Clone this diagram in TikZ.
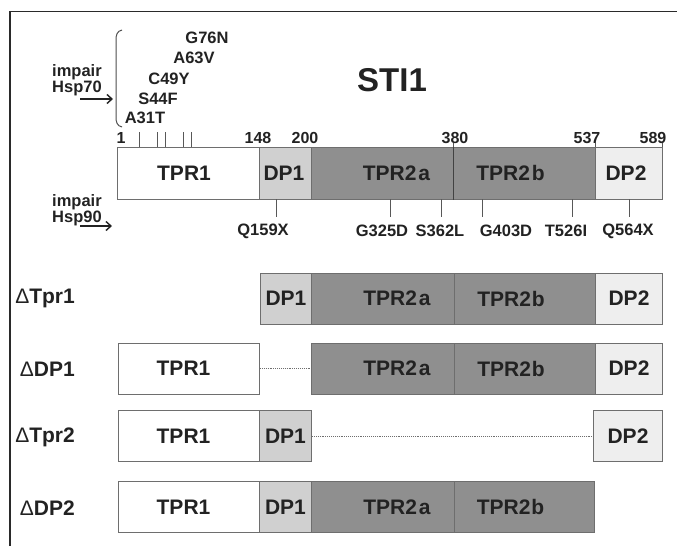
\documentclass[tikz,border=0pt]{standalone}
\usepackage{fontspec}
\setmainfont{Liberation Sans}
\usetikzlibrary{arrows.meta}
\definecolor{txt}{HTML}{222222}
\definecolor{edge}{HTML}{6E6E6E}
\definecolor{dpone}{HTML}{D0D0D0}
\definecolor{tprtwo}{HTML}{8F8F8F}
\definecolor{dptwo}{HTML}{EEEEEE}
\definecolor{framec}{HTML}{2A2A2A}
\newcommand{\dlt}{{\mdseries\char"0394}}
\tikzset{
  seg/.style={draw=edge, line width=1pt, inner sep=0pt, anchor=west, text=txt,
    font=\fontsize{21}{21}\selectfont\bfseries},
  mainseg/.style={seg, minimum height=52pt},
  rowseg/.style={seg, minimum height=51pt},
  tprone/.style={fill=white},
  dpo/.style={fill=dpone},
  tprt/.style={fill=tprtwo},
  dpt/.style={fill=dptwo},
  mut/.style={text=txt, inner sep=0pt, font=\fontsize{16.5}{16.5}\selectfont\bfseries},
  num/.style={text=txt, inner sep=0pt, font=\fontsize{16}{16}\selectfont\bfseries},
  side/.style={text=txt, inner sep=0pt, anchor=west, font=\fontsize{16.5}{16.5}\selectfont\bfseries},
  rowlab/.style={text=txt, inner sep=0pt, anchor=east, font=\fontsize{21}{21}\selectfont\bfseries},
  tick/.style={draw=edge!80!black, line width=0.9pt},
  dotline/.style={draw=edge, line width=0.9pt, densely dotted},
  hsparrow/.style={draw=txt, line width=1.4pt, -{Straight Barb[length=5pt,width=9pt,line width=1.4pt]}},
}
\begin{document}
\begin{tikzpicture}[x=1pt,y=-1pt]
\useasboundingbox (0,0) rectangle (677,546);
% frame
\draw[framec, line width=1.5pt] (10,546) -- (10,11.5) -- (677,11.5);
% title
\node[text=txt, inner sep=0pt, font=\fontsize{33}{33}\selectfont\bfseries] (title) at (392,80) {STI1};
% Hsp70 mutations
\node[mut] (g76n) at (207,38) {G76N};
\node[mut] (a63v) at (194,58) {A63V};
\node[mut] (c49y) at (169,79) {C49Y};
\node[mut] (s44f) at (158,99) {S44F};
\node[mut] (a31t) at (145,118) {A31T};
\draw[edge!70!black, line width=1pt] (122,30) .. controls (117,31) and (116,35) .. (116,40) -- (116,117) .. controls (116,122) and (117,126) .. (122,127);
\node[side] (imp70) at (52,72) {impair};
\node[side] (hsp70) at (52,88) {Hsp70};
\coordinate (a70s) at (80,99);
\coordinate (a70e) at (113,99);
\draw[hsparrow] (a70s) -- (a70e);
% numbers
\node[num] (n1) at (121,138) {1};
\node[num] (n148) at (258,138) {148};
\node[num] (n200) at (305,138) {200};
\node[num] (n380) at (455,138) {380};
\node[num] (n537) at (587,138) {537};
\node[num] (n589) at (653,138) {589};
\foreach \x in {139,157,165,183,191} \draw[tick] (\x,132) -- (\x,147);
\foreach \x in {453,595,662} \draw[tick] (\x,143) -- (\x,147);
% main bar
\node[mainseg, tprone, minimum width=142pt] (mtpr1) at (117,173) {TPR1\hspace*{9pt}};
\node[mainseg, dpo, minimum width=52pt] (mdp1) at (259,173) {DP1\hspace*{3pt}};
\node[mainseg, tprt, minimum width=142pt] (mtpra) at (311,173) {\hspace*{28pt}TPR2\hspace{2pt}a};
\node[mainseg, tprt, minimum width=142pt] (mtprb) at (453,173) {TPR2\hspace{2pt}b\hspace*{28pt}};
\node[mainseg, dpt, minimum width=67pt] (mdp2) at (595,173) {DP2\hspace*{6pt}};
\draw[draw=edge!60!black, line width=1pt] (mtprb.north west) -- (mtprb.south west);
% Hsp90 mutations
\foreach \x in {276,390,441,482,572,629} \draw[tick] (\x,199) -- (\x,217);
\node[mut] (q159x) at (263,231) {Q159X};
\node[mut] (g325d) at (382,231) {G325D};
\node[mut] (s362l) at (440,231) {S362L};
\node[mut] (g403d) at (506,231) {G403D};
\node[mut] (t526i) at (566,231) {T526I};
\node[mut] (q564x) at (628,231) {Q564X};
\node[side] (imp90) at (52,202) {impair};
\node[side] (hsp90) at (52,218) {Hsp90};
\coordinate (a90s) at (80,226);
\coordinate (a90e) at (112,226);
\draw[hsparrow] (a90s) -- (a90e);
% row 1: Delta Tpr1
\node[rowlab] (l1) at (75,298) {\dlt Tpr1};
\node[rowseg, dpo, minimum width=51pt] (r1dp1) at (260,298.5) {DP1};
\node[rowseg, tprt, minimum width=143pt] (r1tpra) at (311,298.5) {\hspace*{28pt}TPR2\hspace{2pt}a};
\node[rowseg, tprt, minimum width=141pt] (r1tprb) at (454,298.5) {TPR2\hspace{1pt}b\hspace*{28pt}};
\node[rowseg, dpt, minimum width=67pt] (r1dp2) at (595,298.5) {DP2};
% row 2: Delta DP1
\node[rowlab] (l2) at (75,369) {\dlt DP1};
\node[rowseg, tprone, minimum width=141pt] (r2tpr1) at (118,368.5) {TPR1\hspace*{11pt}};
\node[rowseg, tprt, minimum width=143pt] (r2tpra) at (311,368.5) {\hspace*{28pt}TPR2\hspace{2pt}a};
\node[rowseg, tprt, minimum width=141pt] (r2tprb) at (454,368.5) {TPR2\hspace{1pt}b\hspace*{28pt}};
\node[rowseg, dpt, minimum width=67pt] (r2dp2) at (595,368.5) {DP2};
\draw[dotline] (r2tpr1.east) -- (r2tpra.west);
% row 3: Delta Tpr2
\node[rowlab] (l3) at (75,437) {\dlt Tpr2};
\node[rowseg, tprone, minimum width=141pt] (r3tpr1) at (118,436) {TPR1\hspace*{11pt}};
\node[rowseg, dpo, minimum width=52pt] (r3dp1) at (259,436) {DP1};
\node[rowseg, dpt, minimum width=69pt] (r3dp2) at (593,436) {DP2};
\draw[dotline] (r3dp1.east) -- (r3dp2.west);
% row 4: Delta DP2
\node[rowlab] (l4) at (75,508) {\dlt DP2};
\node[rowseg, tprone, minimum width=141pt] (r4tpr1) at (118,507) {TPR1\hspace*{11pt}};
\node[rowseg, dpo, minimum width=52pt] (r4dp1) at (259,507) {DP1};
\node[rowseg, tprt, minimum width=143pt] (r4tpra) at (311,507) {\hspace*{28pt}TPR2\hspace{2pt}a};
\node[rowseg, tprt, minimum width=140pt] (r4tprb) at (454,507) {TPR2\hspace{1pt}b\hspace*{28pt}};
\end{tikzpicture}
\end{document}
